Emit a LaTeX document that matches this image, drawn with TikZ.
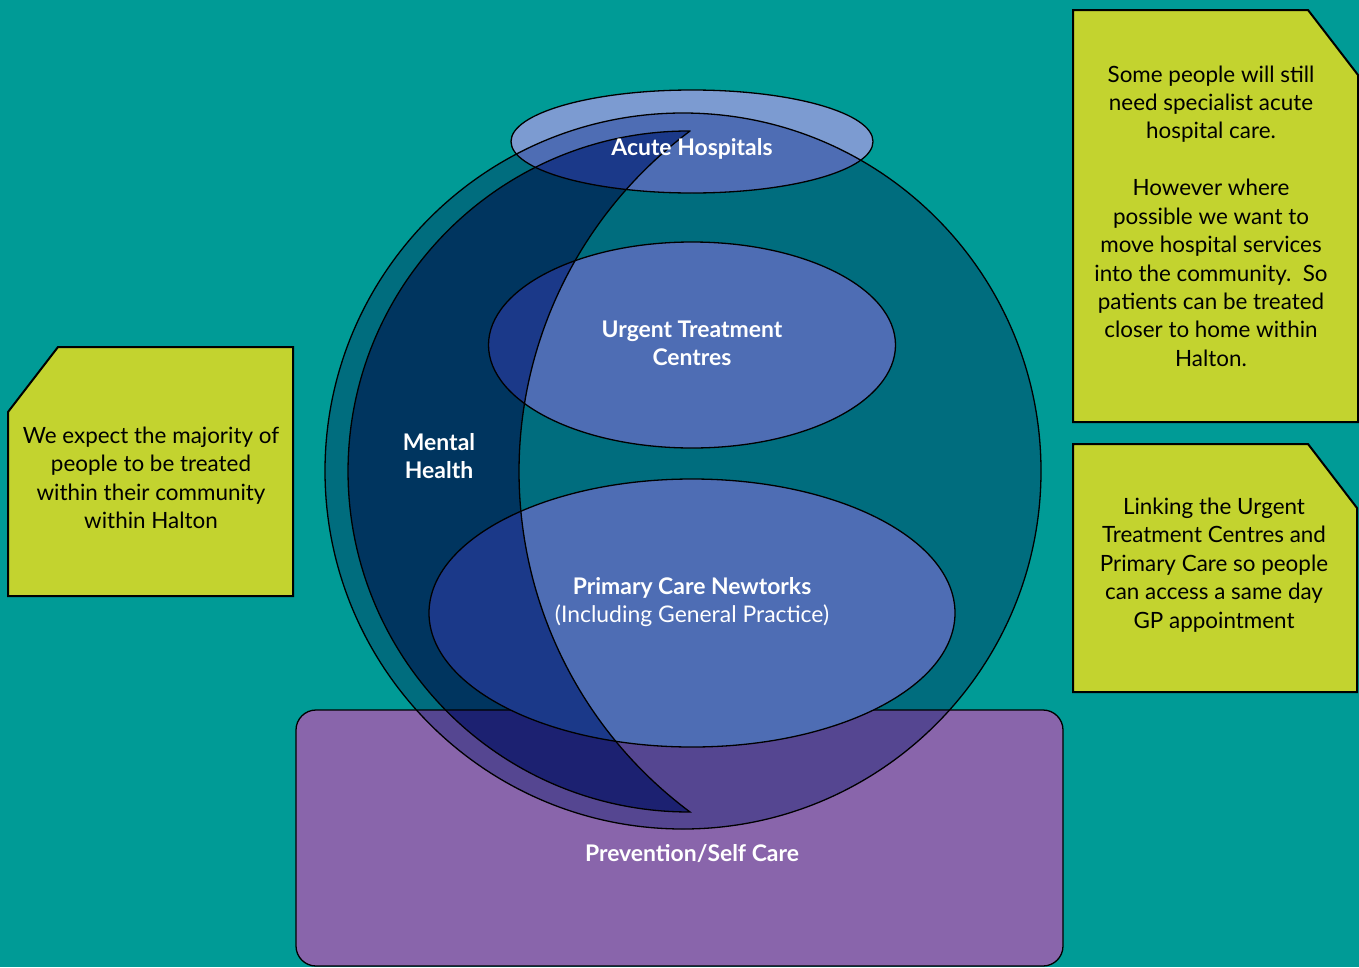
\documentclass[tikz,border=0pt]{standalone}
\usepackage{fontspec}
\setmainfont{Lato}
\definecolor{bgteal}{HTML}{009B96}
\definecolor{circteal}{HTML}{006D7E}
\definecolor{navy}{HTML}{00355F}
\definecolor{lightblue}{HTML}{7C9BD1}
\definecolor{midblue}{HTML}{4E6DB4}
\definecolor{crblue}{HTML}{1B3989}
\definecolor{purp}{HTML}{8965AB}
\definecolor{purpdark}{HTML}{554691}
\definecolor{purpnavy}{HTML}{1C2171}
\definecolor{lime}{HTML}{C3D32F}
\newcommand\crescpath{(690,131) arc[start angle=-89.75,end angle=-270.25,radius=340.5] arc[start angle=126.67,end angle=233.33,radius=424.5] -- cycle}
\begin{document}
\begin{tikzpicture}[x=1bp,y=-1bp,
  lbl/.style={text=white,font=\bfseries\fontsize{23}{28}\selectfont,align=center},
  note/.style={text=black,font=\fontsize{22.5}{28.5}\selectfont,align=center},
  edge/.style={draw=black,line width=1.3bp},
  boxedge/.style={draw=black,line width=2bp,fill=lime},
  rr/.style={rounded corners=20bp}]
\fill[bgteal] (0,0) rectangle (1359,967);
\useasboundingbox (0,0) rectangle (1359,967);
% prevention rectangle
\fill[purp,rr] (296,710) rectangle (1063,966);
% big circle
\fill[circteal] (683,471) circle[radius=358];
\begin{scope}
  \clip (683,471) circle[radius=358];
  \fill[purpdark,rr] (296,710) rectangle (1063,966);
\end{scope}
% crescent
\fill[navy] \crescpath;
\begin{scope}
  \clip \crescpath;
  \fill[purpnavy,rr] (296,710) rectangle (1063,966);
\end{scope}
\draw[edge,rr] (296,710) rectangle (1063,966);
% acute ellipse
\fill[lightblue] (692,141.5) ellipse[x radius=181,y radius=51.5];
\begin{scope}
  \clip (683,471) circle[radius=358];
  \fill[midblue] (692,141.5) ellipse[x radius=181,y radius=51.5];
\end{scope}
% UTC and PCN ellipses
\fill[midblue] (692,345) ellipse[x radius=203.5,y radius=103];
\fill[midblue] (692,613) ellipse[x radius=263,y radius=134];
\begin{scope}
  \clip \crescpath;
  \fill[crblue] (692,141.5) ellipse[x radius=181,y radius=51.5];
  \fill[crblue] (692,345) ellipse[x radius=203.5,y radius=103];
  \fill[crblue] (692,613) ellipse[x radius=263,y radius=134];
\end{scope}
% outlines
\draw[edge] (683,471) circle[radius=358];
\draw[edge] \crescpath;
\draw[edge] (692,141.5) ellipse[x radius=181,y radius=51.5];
\draw[edge] (692,345) ellipse[x radius=203.5,y radius=103];
\draw[edge] (692,613) ellipse[x radius=263,y radius=134];
% labels
\node[lbl] (acute) at (692,149) {Acute Hospitals};
\node[lbl] (utc) at (692,343) {Urgent Treatment\\Centres};
\node[lbl] (mh) at (439,456) {Mental\\Health};
\node[lbl] (pcn) at (692,602) {Primary Care Newtorks\\{\mdseries (Including General Practice)}};
\node[lbl] (prev) at (692,854) {Prevention/Self Care};
% note boxes
\draw[boxedge] (58,347) -- (293,347) -- (293,596) -- (8,596) -- (8,412) -- cycle;
\node[note] (noteL) at (151,478) {We expect the majority of\\people to be treated\\within their community\\within Halton};
\draw[boxedge] (1073,10) -- (1308,10) -- (1358,75) -- (1358,422) -- (1073,422) -- cycle;
\node[note] (noteTR) at (1211,216) {Some people will still\\need specialist acute\\hospital care.\\[28.5bp]However where\\possible we want to\\move hospital services\\into the community.\ \ So\\patients can be treated\\closer to home within\\Halton.};
\draw[boxedge] (1073,444) -- (1308,444) -- (1357,508) -- (1357,692) -- (1073,692) -- cycle;
\node[note] (noteBR) at (1214,565) {Linking the Urgent\\Treatment Centres and\\Primary Care so people\\can access a same day\\GP appointment};
\end{tikzpicture}
\end{document}
